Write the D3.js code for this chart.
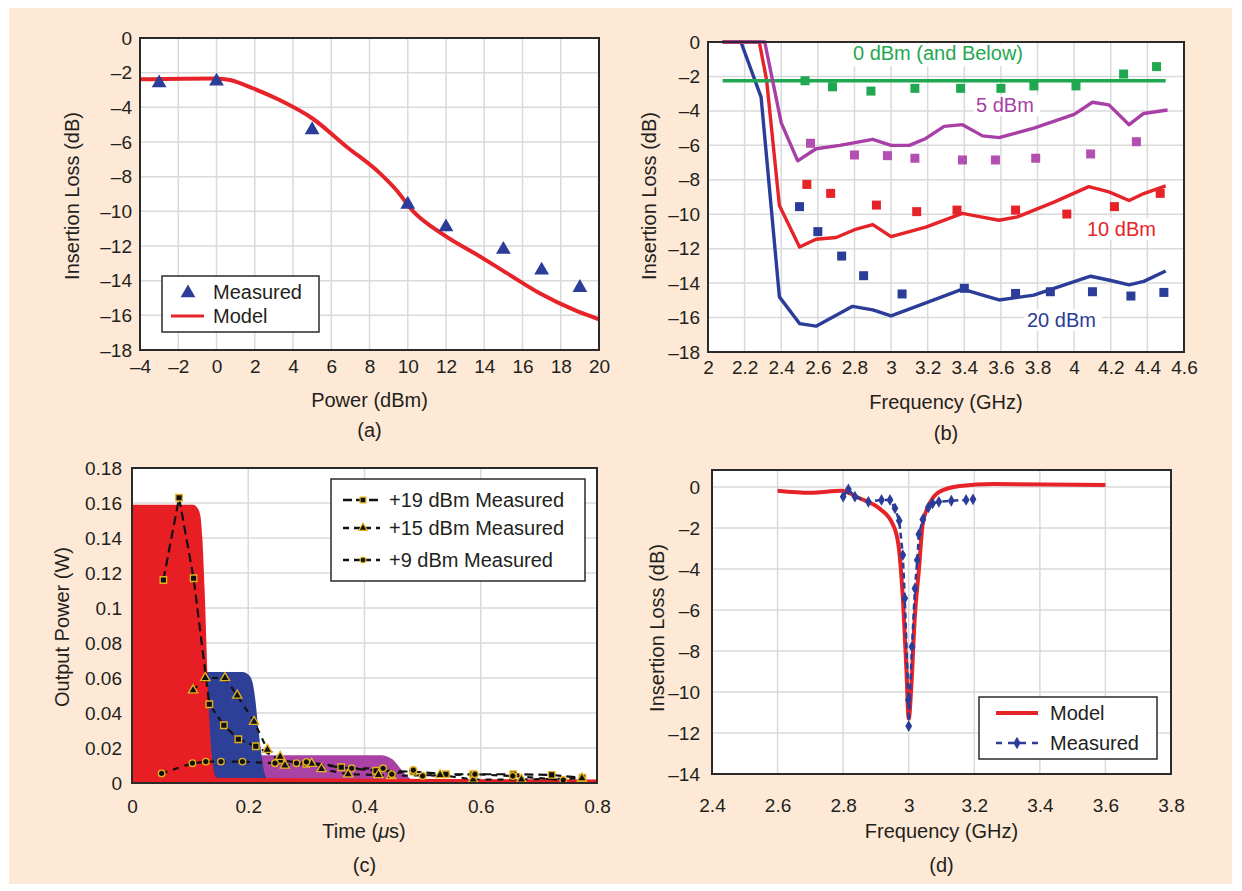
<!DOCTYPE html>
<html>
<head>
<meta charset="utf-8">
<script src="https://cdn.jsdelivr.net/npm/d3@7"></script>
<style>
body { margin: 0; background: #fff; }
text { font-family: "Liberation Sans", Arial, sans-serif; fill: #231f20; }
</style>
</head>
<body>
<script>
// ---- panel (a): insertion loss vs power
var aPower = [-3, 0, 5, 10, 12, 15, 17, 19];
var aMeasured = [-2.6, -2.5, -5.3, -9.6, -10.9, -12.2, -13.4, -14.4];
var aModelPower = [-4, 0, 0.7, 1.9, 3.3, 5, 6.8, 8.55, 9.4, 10.3, 11.9, 13.8, 15.2, 16.9, 18.7, 20];
var aModelLoss = [-2.38, -2.33, -2.42, -2.9, -3.58, -4.63, -6.27, -7.81, -8.77, -10.02, -11.37, -12.62, -13.58, -14.73, -15.69, -16.23];
var aXTicks = [-4, -2, 0, 2, 4, 6, 8, 10, 12, 14, 16, 18, 20];
var aYTicks = [0, -2, -4, -6, -8, -10, -12, -14, -16, -18];

// ---- panel (b): insertion loss vs frequency at several drive levels
var bGreenF = [2.08, 4.5];
var bGreenL = [-2.25, -2.25];
var bGreenSqF = [2.53, 2.68, 2.89, 3.13, 3.38, 3.6, 3.78, 4.01, 4.27, 4.45];
var bGreenSqL = [-2.25, -2.6, -2.85, -2.69, -2.69, -2.69, -2.55, -2.55, -1.86, -1.43];
var bPurpleF = [2.08, 2.31, 2.4, 2.49, 2.59, 2.72, 2.9, 3.0, 3.1, 3.19, 3.29, 3.39, 3.5, 3.59, 3.78, 4.0, 4.1, 4.19, 4.3, 4.38, 4.51];
var bPurpleL = [0, 0, -4.7, -6.9, -6.2, -6.0, -5.65, -6.0, -6.0, -5.6, -4.9, -4.8, -5.45, -5.55, -5.0, -4.2, -3.5, -3.65, -4.8, -4.15, -3.95];
var bPurpleSqF = [2.56, 2.8, 2.98, 3.13, 3.39, 3.57, 3.79, 4.09, 4.34];
var bPurpleSqL = [-5.88, -6.56, -6.6, -6.75, -6.85, -6.85, -6.75, -6.5, -5.79];
var bRedF = [2.08, 2.28, 2.32, 2.39, 2.5, 2.59, 2.7, 2.8, 2.9, 3.0, 3.19, 3.39, 3.49, 3.59, 3.69, 3.89, 4.08, 4.19, 4.3, 4.38, 4.5];
var bRedL = [0, 0, -2.2, -9.5, -11.9, -11.45, -11.35, -10.9, -10.6, -11.3, -10.75, -9.95, -10.15, -10.35, -10.15, -9.3, -8.4, -8.7, -9.2, -8.8, -8.35];
var bRedSqF = [2.54, 2.67, 2.92, 3.14, 3.36, 3.68, 3.96, 4.22, 4.47];
var bRedSqL = [-8.27, -8.79, -9.47, -9.85, -9.76, -9.76, -9.99, -9.56, -8.79];
var bBlueF = [2.08, 2.18, 2.29, 2.39, 2.5, 2.59, 2.79, 2.9, 3.0, 3.19, 3.39, 3.5, 3.59, 3.78, 3.89, 4.09, 4.2, 4.3, 4.38, 4.5];
var bBlueL = [0, 0, -3.2, -14.8, -16.35, -16.5, -15.35, -15.55, -15.9, -15.15, -14.35, -14.7, -14.98, -14.7, -14.3, -13.6, -13.85, -14.1, -13.9, -13.3];
var bBlueSqF = [2.5, 2.6, 2.73, 2.85, 3.06, 3.4, 3.68, 3.87, 4.1, 4.31, 4.49];
var bBlueSqL = [-9.56, -11.01, -12.43, -13.57, -14.63, -14.3, -14.6, -14.5, -14.5, -14.75, -14.54];
var bXTicks = [2, 2.2, 2.4, 2.6, 2.8, 3, 3.2, 3.4, 3.6, 3.8, 4, 4.2, 4.4, 4.6];
var bYTicks = [0, -2, -4, -6, -8, -10, -12, -14, -16, -18];

// ---- panel (c): output power vs time
var cRedT = [0, 0.105, 0.113, 0.118, 0.121, 0.125, 0.13, 0.135, 0.14, 0.145, 0.8];
var cRedP = [0.159, 0.159, 0.157, 0.152, 0.14, 0.11, 0.06, 0.025, 0.008, 0.003, 0.002];
var cBlueT = [0.125, 0.19, 0.2, 0.207, 0.212, 0.217, 0.222, 0.227, 0.233, 0.24];
var cBlueP = [0.0634, 0.0634, 0.062, 0.058, 0.048, 0.032, 0.018, 0.007, 0.002, 0];
var cPurpleT = [0.2, 0.43, 0.44, 0.45, 0.46, 0.47, 0.48, 0.49];
var cPurpleP = [0.0158, 0.0158, 0.015, 0.013, 0.009, 0.005, 0.002, 0];
var c19T = [0.054, 0.081, 0.106, 0.133, 0.158, 0.183, 0.213, 0.255, 0.3, 0.36, 0.42, 0.484, 0.54, 0.587, 0.656, 0.722, 0.775];
var c19P = [0.116, 0.163, 0.117, 0.045, 0.033, 0.025, 0.021, 0.013, 0.011, 0.009, 0.007, 0.0065, 0.005, 0.005, 0.005, 0.0046, 0.003];
var c15T = [0.105, 0.126, 0.16, 0.181, 0.21, 0.233, 0.255, 0.263, 0.309, 0.326, 0.372, 0.424, 0.446, 0.53, 0.587, 0.67, 0.774];
var c15P = [0.053, 0.06, 0.06, 0.05, 0.035, 0.019, 0.015, 0.01, 0.011, 0.008, 0.005, 0.0046, 0.004, 0.0046, 0.002, 0.002, 0.0027];
var c9T = [0.051, 0.104, 0.127, 0.153, 0.19, 0.246, 0.283, 0.3, 0.378, 0.432, 0.447, 0.484, 0.5, 0.59, 0.655, 0.742];
var c9P = [0.0055, 0.0113, 0.0122, 0.0122, 0.0122, 0.0113, 0.0113, 0.012, 0.0084, 0.0084, 0.005, 0.0074, 0.004, 0.005, 0.004, 0.0017];
var cXTicks = [0, 0.2, 0.4, 0.6, 0.8];
var cYTicks = [0, 0.02, 0.04, 0.06, 0.08, 0.1, 0.12, 0.14, 0.16, 0.18];

// ---- panel (d): model vs measured notch
var dModelF = [2.6, 2.7, 2.795, 2.85, 2.91, 2.95, 2.968, 2.983, 2.993, 3.0, 3.008, 3.018, 3.031, 3.043, 3.064, 3.094, 3.156, 3.258, 3.6];
var dModelL = [-0.18, -0.28, -0.18, -0.55, -1.04, -1.77, -2.75, -5.67, -8.93, -11.3, -9.74, -6.49, -4.05, -1.77, -0.8, -0.23, 0.05, 0.15, 0.1];
var dMeasF = [2.8, 2.816, 2.836, 2.877, 2.917, 2.943, 2.958, 2.971, 2.982, 2.988, 2.999, 3.0, 3.01, 3.019, 3.026, 3.031, 3.043, 3.06, 3.073, 3.092, 3.13, 3.175, 3.196];
var dMeasL = [-0.47, -0.11, -0.47, -0.72, -0.63, -0.63, -1.04, -1.64, -3.32, -5.43, -10.39, -11.66, -7.79, -4.95, -3.56, -2.31, -1.58, -0.99, -0.8, -0.72, -0.67, -0.63, -0.6];
var dXTicks = [2.4, 2.6, 2.8, 3, 3.2, 3.4, 3.6, 3.8];
var dYTicks = [0, -2, -4, -6, -8, -10, -12, -14];

var FONT = '"Liberation Sans", Arial, sans-serif';
var INK = "#231f20";
var BLUE = "#2b3d98", RED = "#e52329", GREEN = "#1fa84f", PURPLE = "#a83fa6";
var YELLOW = "#e2b31c";

var svg = d3.select("body").append("svg")
    .attr("width", 1242)
    .attr("height", 891);

svg.append("rect").attr("width", 1242).attr("height", 891).attr("fill", "#fff");
svg.append("rect")
    .attr("x", 9).attr("y", 8)
    .attr("width", 1223).attr("height", 876)
    .attr("fill", "#fde9d6");

function dash(v) { return String(v).replace("-", "\u2013"); }
function zip(a, b) { return a.map(function(v, i) { return [v, b[i]]; }); }

function makePanel(p) {
    var x = d3.scaleLinear().domain(p.xDomain).range([p.left, p.right]);
    var y = d3.scaleLinear().domain(p.yDomain).range([p.bottom, p.top]);
    var g = svg.append("g");

    g.append("rect")
        .attr("x", p.left).attr("y", p.top)
        .attr("width", p.right - p.left).attr("height", p.bottom - p.top)
        .attr("fill", "#fff");

    g.selectAll(".vgrid").data(p.xTicks).enter().append("line")
        .attr("x1", function(d) { return x(d); })
        .attr("x2", function(d) { return x(d); })
        .attr("y1", p.top).attr("y2", p.bottom)
        .attr("stroke", "#dadada").attr("stroke-width", 1.5);
    g.selectAll(".hgrid").data(p.yTicks).enter().append("line")
        .attr("y1", function(d) { return y(d); })
        .attr("y2", function(d) { return y(d); })
        .attr("x1", p.left).attr("x2", p.right)
        .attr("stroke", "#dadada").attr("stroke-width", 1.5);

    var layer = g.append("g");

    var ax = g.append("g")
        .attr("transform", "translate(0," + p.bottom + ")")
        .call(d3.axisBottom(x).tickValues(p.xTicks).tickSize(0).tickPadding(p.xPad).tickFormat(p.xFmt || dash));
    var ay = g.append("g")
        .attr("transform", "translate(" + p.left + ",0)")
        .call(d3.axisLeft(y).tickValues(p.yTicks).tickSize(0).tickPadding(p.yPad).tickFormat(p.yFmt || dash));
    [ax, ay].forEach(function(a) {
        a.select(".domain").remove();
        a.attr("font-size", 19).attr("font-family", FONT);
        a.selectAll("text").attr("fill", INK);
    });

    g.append("rect")
        .attr("x", p.left).attr("y", p.top)
        .attr("width", p.right - p.left).attr("height", p.bottom - p.top)
        .attr("fill", "none").attr("stroke", "#2a2a2a").attr("stroke-width", 2);

    var cx = (p.left + p.right) / 2;
    g.append("text").attr("x", cx).attr("y", p.xTitleY)
        .attr("text-anchor", "middle").attr("font-size", 20).text(p.xTitle);
    g.append("text").attr("x", cx).attr("y", p.labelY)
        .attr("text-anchor", "middle").attr("font-size", 20).text(p.label);
    g.append("text")
        .attr("transform", "translate(" + p.yTitleX + "," + p.yTitleY + ") rotate(-90)")
        .attr("text-anchor", "middle").attr("dy", "0.35em")
        .attr("font-size", 20).text(p.yTitle);

    return { x: x, y: y, layer: layer };
}

// ================= (a)
var pa = makePanel({
    left: 140, right: 599, top: 38, bottom: 350,
    xDomain: [-4, 20], yDomain: [-18, 0],
    xTicks: aXTicks, yTicks: aYTicks, xPad: 10, yPad: 8,
    xTitle: "Power (dBm)", xTitleY: 407, label: "(a)", labelY: 437,
    yTitle: "Insertion Loss (dB)", yTitleX: 72, yTitleY: 196
});
pa.layer.append("path")
    .datum(zip(aModelPower, aModelLoss))
    .attr("fill", "none").attr("stroke", RED).attr("stroke-width", 4)
    .attr("d", d3.line().x(function(d) { return pa.x(d[0]); }).y(function(d) { return pa.y(d[1]); }).curve(d3.curveMonotoneX));
pa.layer.selectAll(".tri").data(zip(aPower, aMeasured)).enter().append("path")
    .attr("transform", function(d) { return "translate(" + pa.x(d[0]) + "," + pa.y(d[1]) + ")"; })
    .attr("d", d3.symbol().type(d3.symbolTriangle).size(95))
    .attr("fill", BLUE);

var la = svg.append("g");
la.append("rect").attr("x", 162).attr("y", 276).attr("width", 157).attr("height", 56)
    .attr("fill", "#fff").attr("stroke", "#2a2a2a").attr("stroke-width", 1.5);
la.append("path").attr("transform", "translate(188,293)")
    .attr("d", d3.symbol().type(d3.symbolTriangle).size(95)).attr("fill", BLUE);
la.append("text").attr("x", 213).attr("y", 299).attr("font-size", 20).text("Measured");
la.append("line").attr("x1", 171).attr("x2", 204).attr("y1", 316).attr("y2", 316)
    .attr("stroke", RED).attr("stroke-width", 3);
la.append("text").attr("x", 213).attr("y", 323).attr("font-size", 20).text("Model");

// ================= (b)
var pb = makePanel({
    left: 708, right: 1184, top: 42, bottom: 352,
    xDomain: [2, 4.6], yDomain: [-18, 0],
    xTicks: bXTicks, yTicks: bYTicks, xPad: 9, yPad: 8,
    xTitle: "Frequency (GHz)", xTitleY: 409, label: "(b)", labelY: 440,
    yTitle: "Insertion Loss (dB)", yTitleX: 649, yTitleY: 196
});
var bLine = d3.line().x(function(d) { return pb.x(d[0]); }).y(function(d) { return pb.y(d[1]); });
function bSquares(fs, ls, color) {
    pb.layer.append("g").selectAll("rect").data(zip(fs, ls)).enter().append("rect")
        .attr("x", function(d) { return pb.x(d[0]) - 4.5; })
        .attr("y", function(d) { return pb.y(d[1]) - 4.5; })
        .attr("width", 9).attr("height", 9)
        .attr("fill", color);
}
// white patches behind the curve labels
[[848, 44, 184, 22], [974, 95, 66, 21], [1084, 218, 77, 22], [1024, 309, 78, 22]].forEach(function(r) {
    pb.layer.append("rect").attr("x", r[0]).attr("y", r[1]).attr("width", r[2]).attr("height", r[3]).attr("fill", "#fff");
});
[[bBlueF, bBlueL, BLUE], [bRedF, bRedL, RED], [bGreenF, bGreenL, GREEN], [bPurpleF, bPurpleL, PURPLE]].forEach(function(s) {
    pb.layer.append("path").datum(zip(s[0], s[1]))
        .attr("fill", "none").attr("stroke", s[2]).attr("stroke-width", 3.4)
        .attr("stroke-linejoin", "round").attr("d", bLine);
});
bSquares(bGreenSqF, bGreenSqL, GREEN);
bSquares(bPurpleSqF, bPurpleSqL, "#b24fb0");
bSquares(bRedSqF, bRedSqL, RED);
bSquares(bBlueSqF, bBlueSqL, BLUE);
pb.layer.append("text").attr("x", 938).attr("y", 60).attr("text-anchor", "middle")
    .attr("font-size", 20).style("fill", GREEN).text("0 dBm (and Below)");
pb.layer.append("text").attr("x", 976).attr("y", 112)
    .attr("font-size", 20).style("fill", PURPLE).text("5 dBm");
pb.layer.append("text").attr("x", 1087).attr("y", 236)
    .attr("font-size", 20).style("fill", RED).text("10 dBm");
pb.layer.append("text").attr("x", 1027).attr("y", 327)
    .attr("font-size", 20).style("fill", BLUE).text("20 dBm");

// ================= (c)
var pc = makePanel({
    left: 132, right: 597, top: 468, bottom: 783,
    xDomain: [0, 0.8], yDomain: [0, 0.18],
    xTicks: cXTicks, yTicks: cYTicks, xPad: 17, yPad: 10,
    xFmt: function(d) { return String(d); }, yFmt: function(d) { return String(d); },
    xTitle: "", xTitleY: 838, label: "(c)", labelY: 872,
    yTitle: "Output Power (W)", yTitleX: 62, yTitleY: 627
});
var cArea = d3.area().x(function(d) { return pc.x(d[0]); })
    .y0(pc.y(0)).y1(function(d) { return pc.y(d[1]); }).curve(d3.curveMonotoneX);
[[cPurpleT, cPurpleP, "#a942a4"], [cBlueT, cBlueP, "#2d3f97"], [cRedT, cRedP, "#e81e25"]].forEach(function(s) {
    pc.layer.append("path").datum(zip(s[0], s[1])).attr("fill", s[2]).attr("d", cArea);
});
var cLine = d3.line().x(function(d) { return pc.x(d[0]); }).y(function(d) { return pc.y(d[1]); });
var cSeries = [
    { t: c19T, p: c19P, type: d3.symbolSquare, size: 42, dash: "9,5" },
    { t: c15T, p: c15P, type: d3.symbolTriangle, size: 38, dash: "6,6" },
    { t: c9T, p: c9P, type: d3.symbolCircle, size: 34, dash: "6,6" }
];
cSeries.forEach(function(s) {
    pc.layer.append("path").datum(zip(s.t, s.p))
        .attr("fill", "none").attr("stroke", "#111").attr("stroke-width", 2.2)
        .attr("stroke-dasharray", s.dash).attr("d", cLine);
});
cSeries.forEach(function(s) {
    pc.layer.append("g").selectAll("path").data(zip(s.t, s.p)).enter().append("path")
        .attr("transform", function(d) { return "translate(" + pc.x(d[0]) + "," + pc.y(d[1]) + ")"; })
        .attr("d", d3.symbol().type(s.type).size(s.size))
        .attr("fill", "#111").attr("stroke", YELLOW).attr("stroke-width", 1.3);
});
// x title with italic mu
var ct = svg.append("text").attr("x", 364).attr("y", 838).attr("text-anchor", "middle").attr("font-size", 20);
ct.append("tspan").text("Time (");
ct.append("tspan").attr("font-style", "italic").text("\u03bc");
ct.append("tspan").text("s)");

var lc = svg.append("g");
lc.append("rect").attr("x", 331).attr("y", 479).attr("width", 254).attr("height", 102)
    .attr("fill", "#fff").attr("stroke", "#2a2a2a").attr("stroke-width", 1.5);
var cLabels = ["+19 dBm Measured", "+15 dBm Measured", "+9 dBm Measured"];
var cRowY = [500, 528, 560];
cSeries.forEach(function(s, i) {
    lc.append("line").attr("x1", 343).attr("x2", 380).attr("y1", cRowY[i]).attr("y2", cRowY[i])
        .attr("stroke", "#111").attr("stroke-width", 2.5).attr("stroke-dasharray", i === 0 ? "9,4" : "6,5");
    lc.append("path").attr("transform", "translate(363," + cRowY[i] + ")")
        .attr("d", d3.symbol().type(s.type).size(s.size * 0.8))
        .attr("fill", "#111").attr("stroke", YELLOW).attr("stroke-width", 1.2);
    lc.append("text").attr("x", 389).attr("y", cRowY[i]).attr("dy", "0.35em")
        .attr("font-size", 20).text(cLabels[i]);
});

// ================= (d)
var pd = makePanel({
    left: 712, right: 1171, top: 470, bottom: 774,
    xDomain: [2.4, 3.8], yDomain: [-14, 0.83],
    xTicks: dXTicks, yTicks: dYTicks, xPad: 25, yPad: 12,
    xTitle: "Frequency (GHz)", xTitleY: 838, label: "(d)", labelY: 872,
    yTitle: "Insertion Loss (dB)", yTitleX: 657, yTitleY: 628
});
var dLine = d3.line().x(function(d) { return pd.x(d[0]); }).y(function(d) { return pd.y(d[1]); });
pd.layer.append("path").datum(zip(dModelF, dModelL))
    .attr("fill", "none").attr("stroke", RED).attr("stroke-width", 4)
    .attr("d", dLine.curve(d3.curveMonotoneX));
pd.layer.append("path").datum(zip(dMeasF, dMeasL))
    .attr("fill", "none").attr("stroke", BLUE).attr("stroke-width", 2.5)
    .attr("stroke-dasharray", "6,4")
    .attr("d", d3.line().x(function(d) { return pd.x(d[0]); }).y(function(d) { return pd.y(d[1]); }));
pd.layer.append("g").selectAll("path").data(zip(dMeasF, dMeasL)).enter().append("path")
    .attr("transform", function(d) { return "translate(" + pd.x(d[0]) + "," + pd.y(d[1]) + ")"; })
    .attr("d", d3.symbol().type(d3.symbolDiamond).size(40))
    .attr("fill", BLUE);

var ld = svg.append("g");
ld.append("rect").attr("x", 979).attr("y", 697).attr("width", 178).attr("height", 62)
    .attr("fill", "#fff").attr("stroke", "#2a2a2a").attr("stroke-width", 1.5);
ld.append("line").attr("x1", 996).attr("x2", 1038).attr("y1", 713).attr("y2", 713)
    .attr("stroke", RED).attr("stroke-width", 4);
ld.append("text").attr("x", 1050).attr("y", 713).attr("dy", "0.35em").attr("font-size", 20).text("Model");
ld.append("line").attr("x1", 996).attr("x2", 1038).attr("y1", 743).attr("y2", 743)
    .attr("stroke", BLUE).attr("stroke-width", 2.5).attr("stroke-dasharray", "6,6");
ld.append("path").attr("transform", "translate(1017,743)")
    .attr("d", d3.symbol().type(d3.symbolDiamond).size(45)).attr("fill", BLUE);
ld.append("text").attr("x", 1050).attr("y", 743).attr("dy", "0.35em").attr("font-size", 20).text("Measured");
</script>
</body>
</html>
